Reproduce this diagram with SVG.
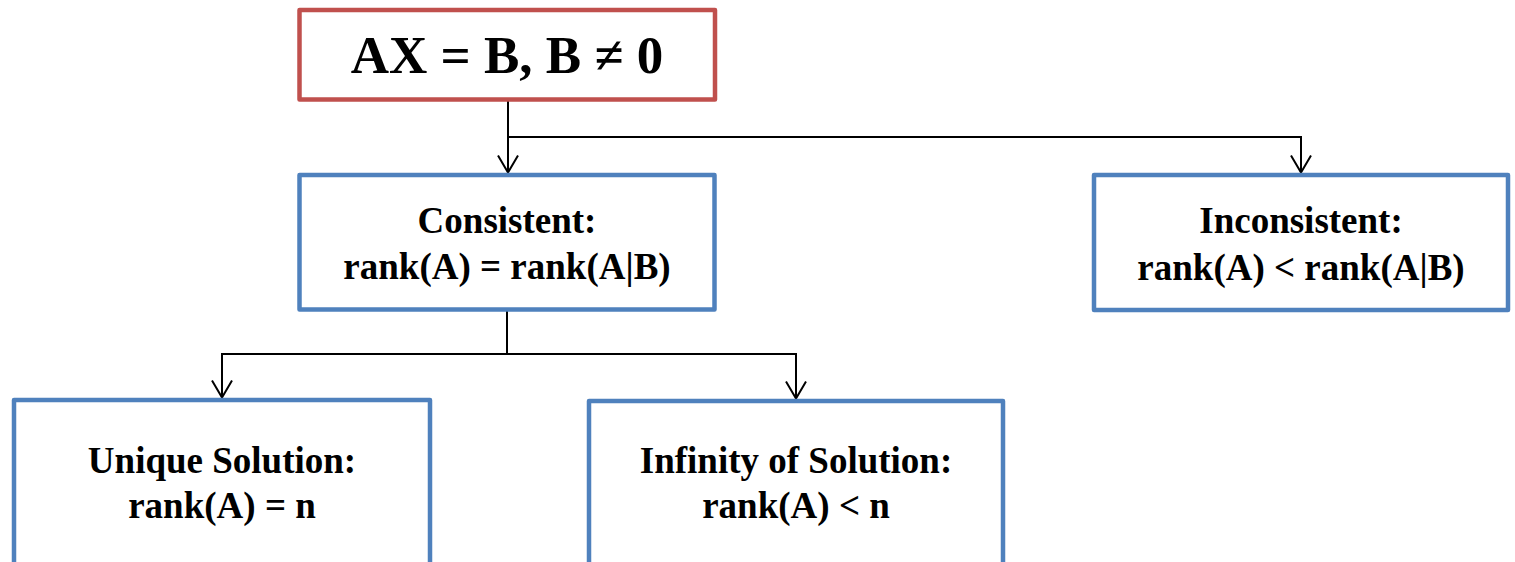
<svg xmlns="http://www.w3.org/2000/svg" width="1515" height="562" viewBox="0 0 1515 562">
  <style>
    .box { fill: #ffffff; stroke-width: 4.5; stroke-linejoin: round; }
    .root { stroke: #C0504D; }
    .leaf { stroke: #4F81BD; }
    .lbl { font-family: "Liberation Serif", "Times New Roman", serif; font-weight: bold; fill: #000000; text-anchor: middle; }
    .big { font-size: 53px; }
    .mid { font-size: 37px; }
    .wire { fill: none; stroke: #000000; stroke-width: 2; }
  </style>
  <defs>
    <!-- open V arrowhead, tip at the end of the line -->
    <marker id="vee" markerUnits="userSpaceOnUse" markerWidth="24" markerHeight="24" viewBox="-20 -12 24 24" refX="0" refY="0" orient="auto">
      <path d="M -17 -10 L 0 0 L -17 10" fill="none" stroke="#000000" stroke-width="2"/>
    </marker>
  </defs>

  <!-- connectors -->
  <g id="connectors">
    <path class="wire" d="M 508 101 L 508 172.5" marker-end="url(#vee)"/>
    <path class="wire" d="M 508 137 L 1301 137 L 1301 172.5" marker-end="url(#vee)"/>
    <path class="wire" d="M 507 311 L 507 354 L 222 354 L 222 397.5" marker-end="url(#vee)"/>
    <path class="wire" d="M 507 354 L 796 354 L 796 398.5" marker-end="url(#vee)"/>
  </g>

  <!-- root equation -->
  <g id="node-system">
    <rect class="box root" x="299.5" y="10" width="415.5" height="89.5"/>
    <text class="lbl big" x="507" y="73">AX = B, B ≠ 0</text>
  </g>

  <g id="node-consistent">
    <rect class="box leaf" x="299.5" y="175" width="415" height="134.5"/>
    <text class="lbl mid" x="507" y="233">Consistent:</text>
    <text class="lbl mid" x="507" y="279">rank(A) = rank(A|B)</text>
  </g>

  <g id="node-inconsistent">
    <rect class="box leaf" x="1094" y="175" width="414" height="135"/>
    <text class="lbl mid" x="1301" y="233">Inconsistent:</text>
    <text class="lbl mid" x="1301" y="280">rank(A) &lt; rank(A|B)</text>
  </g>

  <g id="node-unique">
    <rect class="box leaf" x="14" y="400" width="416" height="200"/>
    <text class="lbl mid" x="222" y="473">Unique Solution:</text>
    <text class="lbl mid" x="222" y="518">rank(A) = n</text>
  </g>

  <g id="node-infinity">
    <rect class="box leaf" x="589" y="401" width="414" height="200"/>
    <text class="lbl mid" x="796" y="473">Infinity of Solution:</text>
    <text class="lbl mid" x="796" y="518">rank(A) &lt; n</text>
  </g>
</svg>
